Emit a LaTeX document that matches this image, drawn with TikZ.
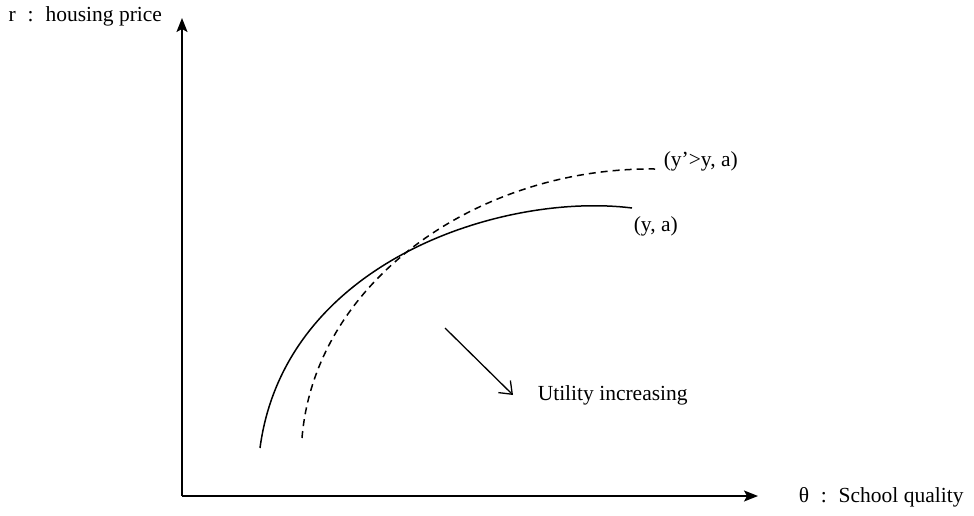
\documentclass[tikz,border=0pt]{standalone}
\usepackage{fontspec}
\setmainfont{Liberation Serif}
\usetikzlibrary{arrows.meta}

\newcommand{\axcolon}{\hspace{0.55em}:\hspace{0.55em}}

\begin{document}
\begin{tikzpicture}[x=1pt, y=-1pt, line width=1.5pt, font=\fontsize{21.5}{26}\selectfont]

\useasboundingbox (0,0) rectangle (974,515);

% 坐标轴
\coordinate (O) at (182,496);
\coordinate (Ytop) at (182,18);
\coordinate (Xend) at (758,496);
\draw[-{Stealth[length=14pt, width=11pt, inset=3pt]}] (O) -- (Ytop);
\draw[-{Stealth[length=14pt, width=11pt, inset=3pt]}] (O) -- (Xend);
\node[anchor=west, inner sep=0pt] (rlab) at (8,16) {r\axcolon housing price};
\node[anchor=west, inner sep=0pt] (thlab) at (798,497) {θ\axcolon School quality};

% 无差异曲线 (y, a)
\coordinate (S0) at (260,448);
\coordinate (S1) at (632,208);
\draw (S0) .. controls (285,260) and (505,192) .. (S1);
\node[anchor=west, inner sep=0pt] (ya) at (633,226) {(y, a)};

% 无差异曲线 (y'>y, a)
\coordinate (D0) at (302,438);
\coordinate (D1) at (655,169);
\draw[dash pattern=on 7pt off 5pt] (D0) .. controls (315,280) and (480,167) .. (D1);
\node[anchor=west, inner sep=0pt] (ypa) at (663,161) {(y'>y, a)};

% 效用增加方向
\coordinate (U0) at (445,328);
\coordinate (U1) at (513,395);
\draw[-{Straight Barb[length=11pt, width=17pt]}, line width=1.3pt] (U0) -- (U1);
\node[anchor=west, inner sep=0pt] (util) at (537,395) {Utility increasing};

\end{tikzpicture}
\end{document}
